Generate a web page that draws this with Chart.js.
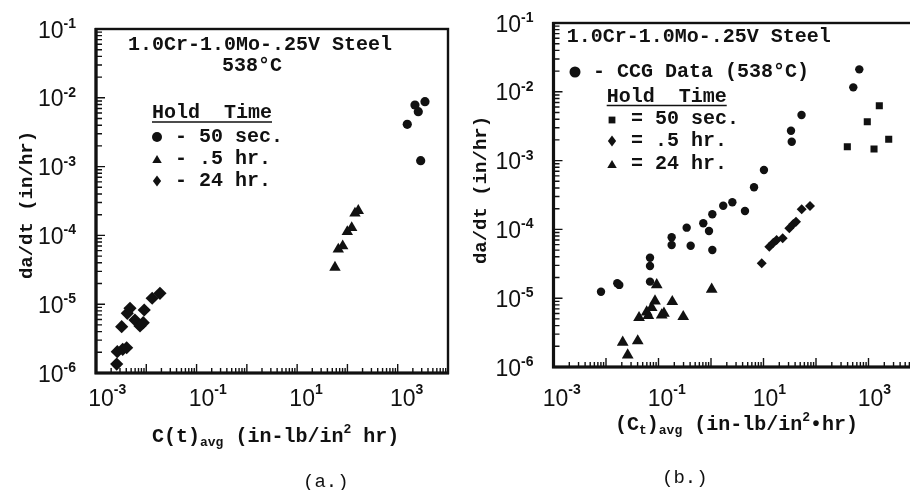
<!DOCTYPE html>
<html>
<head>
<meta charset="utf-8">
<script src="https://cdn.jsdelivr.net/npm/chart.js@4.4.0/dist/chart.umd.min.js"></script>
<style>
  html, body { margin: 0; padding: 0; width: 910px; height: 490px; overflow: hidden; background: #fff; }
  #wrapA { position: absolute; left: 0; top: 0; width: 455px; height: 490px; }
  #wrapB { position: absolute; left: 455px; top: 0; width: 480px; height: 490px; }
</style>
</head>
<body>
<div id="wrapA"><canvas id="chartA" width="455" height="490"></canvas></div>
<div id="wrapB"><canvas id="chartB" width="480" height="490"></canvas></div>
<script>
// ---- panel (a) : C(t)avg vs da/dt ----
const aCircleX = [3483, 2203, 2564, 1549, 2862];            // 50 sec.
const aCircleY = [8.77e-3, 7.86e-3, 6.28e-3, 4.12e-3, 1.22e-3];
const aTriX = [56.5, 65.8, 80.5, 99.4, 121.6, 141.3, 164.4]; // .5 hr.
const aTriY = [3.43e-5, 6.28e-5, 7.01e-5, 1.13e-4, 1.29e-4, 2.10e-4, 2.29e-4];
const aDiaX = [2.58e-3, 2.65e-3, 3.40e-3, 4.07e-3, 3.24e-3, 4.19e-3, 4.74e-3, 5.95e-3, 7.5e-3, 8.7e-3, 9.1e-3, 1.31e-2, 1.87e-2]; // 24 hr.
const aDiaY = [1.35e-6, 2.04e-6, 2.21e-6, 2.33e-6, 4.71e-6, 7.38e-6, 8.71e-6, 5.89e-6, 4.82e-6, 5.38e-6, 8.24e-6, 1.22e-5, 1.44e-5];

// ---- panel (b) : (Ct)avg vs da/dt ----
const bCcgX = [8.03e-3, 1.64e-2, 1.79e-2, 6.89e-2, 6.89e-2, 6.89e-2, 0.178, 0.178, 0.344, 0.410, 0.713, 0.916, 1.06, 1.06, 1.71, 2.55, 4.44, 6.60, 10.2, 33.4, 34.5, 53.0, 513, 668];
const bCcgY = [1.24e-5, 1.65e-5, 1.56e-5, 3.88e-5, 2.94e-5, 1.74e-5, 7.68e-5, 5.93e-5, 1.06e-4, 5.79e-5, 1.23e-4, 9.48e-5, 1.66e-4, 5.02e-5, 2.21e-4, 2.48e-4, 1.85e-4, 4.09e-4, 7.30e-4, 2.72e-3, 1.88e-3, 4.60e-3, 1.16e-2, 2.12e-2];
const bSqX = [395, 948, 1607, 1274, 2427];                   // 50 sec.
const bSqY = [1.59e-3, 3.67e-3, 6.28e-3, 1.47e-3, 2.04e-3];
const bDiaX = [9.25, 12.9, 15.4, 17.8, 23.2, 31.0, 37.0, 41.6, 53.4, 76.9]; // .5 hr.
const bDiaY = [3.21e-5, 5.61e-5, 6.41e-5, 7.01e-5, 7.42e-5, 1.04e-4, 1.20e-4, 1.29e-4, 1.96e-4, 2.19e-4];
const bTriX = [2.08e-2, 2.59e-2, 4.02e-2, 4.26e-2, 5.96e-2, 6.40e-2, 7.41e-2, 8.57e-2, 0.115, 0.127, 0.183, 0.296, 9.25e-2, 1.03]; // 24 hr.
const bTriY = [2.29e-6, 1.49e-6, 2.39e-6, 5.21e-6, 6.3e-6, 5.57e-6, 7.28e-6, 9.10e-6, 5.70e-6, 6.04e-6, 8.89e-6, 5.38e-6, 1.56e-5, 1.35e-5];

// axis labels (powers of ten)
const xTickExps = [-3, -1, 1, 3];
const yTickExps = [-1, -2, -3, -4, -5, -6];

const INK = '#111';
const MONO = '"Liberation Mono", "Courier New", monospace';
const SANS = '"Liberation Sans", Arial, sans-serif';

function pts(xs, ys) {
  return xs.map((v, i) => ({ x: v, y: ys[i] }));
}

function marker(ctx, style, x, y, r) {
  ctx.beginPath();
  if (style === 'circle') {
    ctx.arc(x, y, r, 0, Math.PI * 2);
  } else if (style === 'tri') {
    ctx.moveTo(x, y - r); ctx.lineTo(x + r * 0.95, y + r * 0.6); ctx.lineTo(x - r * 0.95, y + r * 0.6);
  } else if (style === 'dia') {
    ctx.moveTo(x, y - r * 1.2); ctx.lineTo(x + r * 0.9, y); ctx.lineTo(x, y + r * 1.2); ctx.lineTo(x - r * 0.9, y);
  } else {
    ctx.rect(x - r, y - r, 2 * r, 2 * r);
  }
  ctx.closePath();
  ctx.fill();
}

// text pieces: [text, kind] kind = m (main), s (subscript), p (superscript)
function pieces(ctx, list, x, y, size) {
  ctx.textAlign = 'left';
  ctx.textBaseline = 'middle';
  list.forEach(([t, k]) => {
    let fs = size, dy = 0;
    if (k === 's') { fs = 13; dy = 6; }
    if (k === 'p') { fs = 13; dy = -7; }
    ctx.font = 'bold ' + fs + 'px ' + MONO;
    ctx.fillText(t, x, y + dy);
    x += ctx.measureText(t).width;
  });
}

function powLabel(ctx, e, x, y, mode) {
  ctx.font = '23px ' + SANS;
  const wb = ctx.measureText('10').width;
  ctx.font = 'bold 14px ' + SANS;
  const ex = String(e).replace('-', '-');
  const we = ctx.measureText(ex).width;
  const left = mode === 'right' ? x - wb - we : x - wb / 2;
  ctx.textAlign = 'left';
  ctx.textBaseline = 'alphabetic';
  ctx.font = '23px ' + SANS;
  ctx.fillText('10', left, y + 8.5);
  ctx.font = 'bold 14px ' + SANS;
  ctx.fillText(ex, left + wb, y + (mode === 'right' ? -1 : -3));
}

function decorPlugin(cfg) {
  return {
    id: 'decor',
    afterDraw(chart) {
      const ctx = chart.ctx;
      const ca = chart.chartArea;
      const xs = chart.scales.x, ys = chart.scales.y;
      ctx.save();
      ctx.fillStyle = INK;
      ctx.strokeStyle = INK;

      // inward tick marks
      ctx.lineWidth = 1.4;
      ctx.beginPath();
      for (let e = -3; e <= 4; e++) {
        for (let m = 1; m <= 9; m++) {
          const v = m * Math.pow(10, e);
          if (v < 1e-3 || v > 1e4) continue;
          const px = xs.getPixelForValue(v);
          const len = m === 1 ? 9 : 5;
          ctx.moveTo(px, ca.bottom);
          ctx.lineTo(px, ca.bottom - len);
        }
      }
      for (let e = -6; e <= -1; e++) {
        for (let m = 1; m <= 9; m++) {
          const v = m * Math.pow(10, e);
          if (v < 1e-6 || v > 1e-1 * 1.0001) continue;
          const py = ys.getPixelForValue(v);
          const len = m === 1 ? 9 : 6;
          ctx.moveTo(ca.left, py);
          ctx.lineTo(ca.left + len, py);
        }
      }
      ctx.stroke();

      // frame
      ctx.lineWidth = 2.4;
      ctx.strokeRect(ca.left, ca.top, ca.right - ca.left, ca.bottom - ca.top);
      ctx.lineWidth = 3.2;
      ctx.beginPath();
      ctx.moveTo(ca.left, ca.top - 1);
      ctx.lineTo(ca.left, ca.bottom);
      ctx.lineTo(ca.right + 1, ca.bottom);
      ctx.stroke();

      // power-of-ten labels
      xTickExps.forEach(e => powLabel(ctx, e, xs.getPixelForValue(Math.pow(10, e)) + cfg.xShift, ca.bottom + cfg.xLabelDy, 'center'));
      yTickExps.forEach(e => powLabel(ctx, e, ca.left - 20, ys.getPixelForValue(Math.pow(10, e)), 'right'));

      // axis titles
      ctx.save();
      ctx.translate(cfg.yTitle[0], cfg.yTitle[1]);
      ctx.rotate(-Math.PI / 2);
      ctx.font = 'bold 19px ' + MONO;
      ctx.textAlign = 'center';
      ctx.textBaseline = 'middle';
      ctx.fillText('da/dt (in/hr)', 0, 0);
      ctx.restore();
      pieces(ctx, cfg.xTitle, cfg.xTitlePos[0], cfg.xTitlePos[1], 20);

      // caption
      ctx.font = '19px ' + MONO;
      ctx.textAlign = 'left';
      ctx.textBaseline = 'middle';
      ctx.fillText(cfg.caption[0], cfg.caption[1], cfg.caption[2]);

      // annotation block
      ctx.font = 'bold 20px ' + MONO;
      cfg.texts.forEach(t => {
        ctx.textAlign = t.align || 'left';
        ctx.fillText(t.s, t.x, t.y);
      });
      ctx.textAlign = 'left';
      const hw = ctx.measureText('Hold  Time').width;
      ctx.lineWidth = 1.6;
      ctx.beginPath();
      ctx.moveTo(cfg.hold[0], cfg.hold[1] + 9);
      ctx.lineTo(cfg.hold[0] + hw, cfg.hold[1] + 9);
      ctx.stroke();
      cfg.marks.forEach(m => marker(ctx, m.k, m.x, m.y, m.r));
      ctx.restore();
    }
  };
}

function scatter(id, sets, padding, cfg) {
  return new Chart(document.getElementById(id), {
    type: 'scatter',
    data: {
      datasets: sets.map(s => ({
        data: s.data,
        pointStyle: s.style,
        pointRadius: s.r,
        pointHoverRadius: s.r,
        backgroundColor: INK,
        borderColor: INK,
        borderWidth: 0
      }))
    },
    options: {
      responsive: false,
      animation: false,
      devicePixelRatio: 1,
      layout: { padding: padding },
      plugins: { legend: { display: false }, tooltip: { enabled: false } },
      scales: {
        x: { type: 'logarithmic', min: 1e-3, max: 1e4, display: false },
        y: { type: 'logarithmic', min: 1e-6, max: 1e-1, display: false }
      }
    },
    plugins: [decorPlugin(cfg)]
  });
}

scatter('chartA', [
  { data: pts(aCircleX, aCircleY), style: 'circle', r: 4.6 },
  { data: pts(aTriX, aTriY), style: 'triangle', r: 6.6 },
  { data: pts(aDiaX, aDiaY), style: 'rectRot', r: 6.6 }
], { left: 96, top: 29, right: 7, bottom: 117 }, {
  xShift: 5,
  xLabelDy: 24,
  yTitle: [27, 205],
  xTitle: [['C(t)', 'm'], ['avg', 's'], [' (in-lb/in', 'm'], ['2', 'p'], [' hr)', 'm']],
  xTitlePos: [152, 437],
  caption: ['(a.)', 303, 482],
  hold: [152, 113],
  texts: [
    { s: '1.0Cr-1.0Mo-.25V Steel', x: 128, y: 45 },
    { s: '538°C', x: 252, y: 66, align: 'center' },
    { s: 'Hold  Time', x: 152, y: 113 },
    { s: '- 50 sec.', x: 175, y: 137 },
    { s: '- .5 hr.', x: 175, y: 159 },
    { s: '- 24 hr.', x: 175, y: 181 }
  ],
  marks: [
    { k: 'circle', x: 157, y: 137, r: 5 },
    { k: 'tri', x: 157, y: 160, r: 5 },
    { k: 'dia', x: 157, y: 181, r: 4.6 }
  ]
});

scatter('chartB', [
  { data: pts(bCcgX, bCcgY), style: 'circle', r: 4.2 },
  { data: pts(bSqX, bSqY), style: 'rect', r: 5 },
  { data: pts(bDiaX, bDiaY), style: 'rectRot', r: 5 },
  { data: pts(bTriX, bTriY), style: 'triangle', r: 6.8 }
], { left: 98.5, top: 23, right: 14, bottom: 123 }, {
  xShift: 2,
  xLabelDy: 30,
  yTitle: [26, 190],
  xTitle: [['(C', 'm'], ['t', 's'], [')', 'm'], ['avg', 's'], [' (in-lb/in', 'm'], ['2', 'p'], ['\u2022hr)', 'm']],
  xTitlePos: [160, 425],
  caption: ['(b.)', 207, 478],
  hold: [151.7, 96.5],
  texts: [
    { s: '1.0Cr-1.0Mo-.25V Steel', x: 111.7, y: 37 },
    { s: '- CCG Data (538°C)', x: 138, y: 72 },
    { s: 'Hold  Time', x: 151.7, y: 96.5 },
    { s: '= 50 sec.', x: 176, y: 119 },
    { s: '= .5 hr.', x: 176, y: 141 },
    { s: '= 24 hr.', x: 176, y: 164 }
  ],
  marks: [
    { k: 'circle', x: 120, y: 72, r: 5.5 },
    { k: 'sq', x: 157, y: 120, r: 3.4 },
    { k: 'dia', x: 157, y: 141, r: 4.6 },
    { k: 'tri', x: 157, y: 165, r: 5 }
  ]
});
</script>
</body>
</html>
